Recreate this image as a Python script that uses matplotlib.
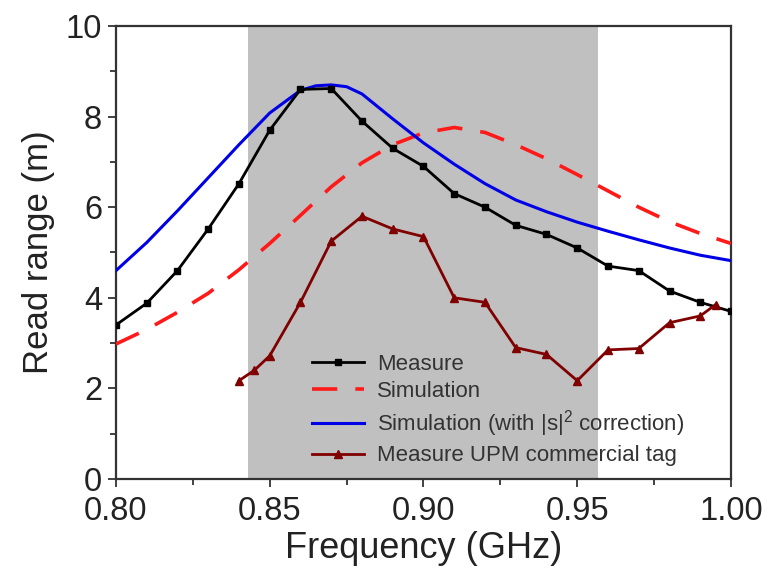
import matplotlib
matplotlib.use("Agg")
import matplotlib.pyplot as plt
from matplotlib.ticker import MultipleLocator

plt.rcParams['font.family'] = ['Liberation Sans', 'DejaVu Sans']
plt.rcParams['mathtext.fontset'] = 'custom'
plt.rcParams['mathtext.rm'] = 'Liberation Sans'
plt.rcParams['mathtext.it'] = 'Liberation Sans:italic'

# Measured read range of the designed tag
freq_meas = [0.80, 0.81, 0.82, 0.83, 0.84, 0.85, 0.86, 0.87, 0.88, 0.89, 0.90,
             0.91, 0.92, 0.93, 0.94, 0.95, 0.96, 0.97, 0.98, 0.99, 1.00]
range_meas = [3.4, 3.88, 4.6, 5.52, 6.52, 7.7, 8.6, 8.62, 7.9, 7.3, 6.9,
              6.3, 6.0, 5.6, 5.4, 5.1, 4.7, 4.6, 4.15, 3.9, 3.7]

# Simulated read range
freq_sim = [0.80, 0.81, 0.82, 0.83, 0.84, 0.85, 0.86, 0.87, 0.88, 0.89, 0.90,
            0.91, 0.92, 0.93, 0.94, 0.95, 0.96, 0.97, 0.98, 0.99, 1.00]
range_sim = [2.98, 3.3, 3.68, 4.1, 4.62, 5.2, 5.82, 6.45, 6.98, 7.38, 7.64,
             7.76, 7.65, 7.38, 7.07, 6.72, 6.36, 6.0, 5.68, 5.42, 5.2]

# Simulation with |s|^2 correction
freq_corr = [0.80, 0.81, 0.82, 0.83, 0.84, 0.85, 0.86, 0.865, 0.87, 0.875, 0.88,
             0.89, 0.90, 0.91, 0.92, 0.93, 0.94, 0.95, 0.96, 0.97, 0.98, 0.99, 1.00]
range_corr = [4.6, 5.22, 5.92, 6.65, 7.38, 8.08, 8.58, 8.68, 8.7, 8.66, 8.5,
              7.95, 7.42, 6.95, 6.52, 6.16, 5.9, 5.67, 5.47, 5.28, 5.1, 4.94, 4.82]

# Commercial UPM tag measurement
freq_upm = [0.84, 0.845, 0.85, 0.86, 0.87, 0.88, 0.89, 0.90, 0.91, 0.92, 0.93,
            0.94, 0.95, 0.96, 0.97, 0.98, 0.99, 0.995]
range_upm = [2.17, 2.4, 2.72, 3.9, 5.25, 5.8, 5.52, 5.35, 4.0, 3.9, 2.9,
             2.75, 2.17, 2.85, 2.88, 3.45, 3.6, 3.85]

# Frequency band highlighted in gray
band = [0.843, 0.9567]

fig = plt.figure(figsize=(7.69, 5.83), dpi=100)
ax = fig.add_axes([0.1508, 0.1784, 0.7998, 0.7770])

ax.axvspan(band[0], band[1], color='#c0c0c0', lw=0, zorder=0)

ax.plot(freq_meas, range_meas, color='black', lw=2.0, marker='s', ms=5,
        label='Measure', zorder=4)
ax.plot(freq_sim, range_sim, color='#ff1a1a', lw=2.6, dashes=(7, 5),
        label='Simulation', zorder=3)
ax.plot(freq_corr, range_corr, color='#0000e6', lw=2.2,
        label=r'Simulation (with |s|$^{2}$ correction)', zorder=3)
ax.plot(freq_upm, range_upm, color='#800000', lw=2.0, marker='^', ms=6,
        label='Measure UPM commercial tag', zorder=4)

ax.set_xlim(0.80, 1.00)
ax.set_ylim(0, 10)
ax.xaxis.set_major_locator(MultipleLocator(0.05))
ax.xaxis.set_minor_locator(MultipleLocator(0.025))
ax.yaxis.set_major_locator(MultipleLocator(2))
ax.yaxis.set_minor_locator(MultipleLocator(1))
ax.xaxis.set_major_formatter(plt.FormatStrFormatter('%.2f'))

for s in ax.spines.values():
    s.set_color('#333333')
    s.set_linewidth(1.6)
ax.tick_params(which='both', direction='out', color='#333333', width=1.3)
ax.tick_params(which='major', length=6, labelsize=23.5, labelcolor='#222222')
ax.tick_params(axis='x', which='major', pad=6)
ax.tick_params(axis='y', which='major', pad=4)
ax.tick_params(which='minor', length=4)

ax.set_xlabel('Frequency (GHz)', fontsize=26, color='#222222', labelpad=3)
ax.set_ylabel('Read range (m)', fontsize=25, color='#222222', labelpad=8)

leg = ax.legend(loc='lower left', bbox_to_anchor=(0.305, 0.008), frameon=False,
                fontsize=16, handlelength=2.3, handletextpad=0.6,
                labelspacing=0.28, borderaxespad=0)
for t in leg.get_texts():
    t.set_color('#333333')

fig.savefig('out.png', dpi=100)
